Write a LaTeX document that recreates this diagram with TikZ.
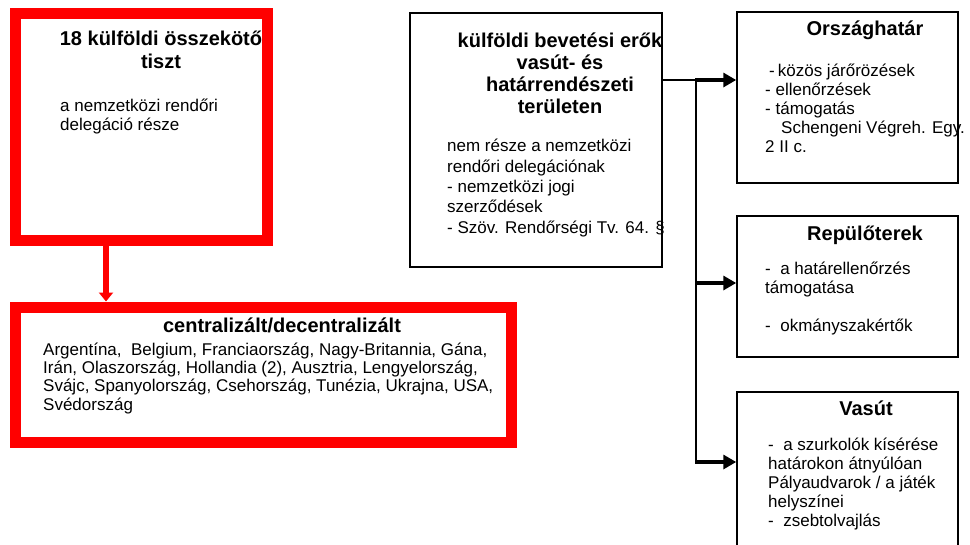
\documentclass[tikz,border=0pt]{standalone}
\usepackage{fontspec}
\setmainfont{Liberation Sans}
\usetikzlibrary{positioning,arrows.meta}
\tikzset{>={Triangle[length=13pt,width=14pt]}}

\begin{document}
\begin{tikzpicture}[x=1pt, y=-1pt,
    redbox/.style={draw=red, line width=11pt, rectangle},
    blackbox/.style={draw=black, line width=1.5pt, rectangle},
    head/.style={font=\fontsize{20}{23}\selectfont\bfseries, align=center, inner sep=0pt, anchor=base},
    body/.style={font=\fontsize{17}{19}\selectfont, align=left, inner sep=0pt, anchor=base west},
    feed/.style={line width=4pt, ->}]
  \clip (0,0) rectangle (970,544);
  % boxes
  \node[redbox, minimum width=252, minimum height=227.5] (liaison) at (141.5,126.75) {};
  \node[redbox, minimum width=496, minimum height=135] (central) at (263,374.5) {};
  \node[blackbox, minimum width=252, minimum height=254] (deploy) at (536,140) {};
  \node[blackbox, minimum width=221, minimum height=171] (border) at (847.5,97.5) {};
  \node[blackbox, minimum width=221, minimum height=141] (airport) at (847.5,286.5) {};
  \node[blackbox, minimum width=221, minimum height=171] (rail) at (847.5,477.5) {};
  % texts (base = last line)
  \node[head] (liaisonhead) at (161,68) {18 külföldi összekötő\\tiszt};
  \node[body] (liaisontext) at (60,130) {a nemzetközi rendőri\\delegáció része};
  \node[head] (centralhead) at (282,332) {centralizált/decentralizált};
  \node[body, font=\fontsize{17}{18.3}\selectfont] (centraltext) at (43,410)
    {Argentína,\ \ Belgium, Franciaország, Nagy-Britannia, Gána,\\
     Irán, Olaszország, Hollandia (2), Ausztria, Lengyelország,\\
     Svájc, Spanyolország, Csehország, Tunézia, Ukrajna, USA,\\
     Svédország};
  \node[head, font=\fontsize{20}{22}\selectfont\bfseries] (deployhead) at (560,113)
    {külföldi bevetési erők\\vasút- és\\határrendészeti\\területen};
  \node[body, font=\fontsize{17}{20.3}\selectfont] (deploytext) at (447,233)
    {nem része a nemzetközi\\rendőri delegációnak\\- nemzetközi jogi\\szerződések\\- Szöv. Rendőrségi Tv. 64. §};
  \node[head] (borderhead) at (865,35) {Országhatár};
  \node[body] (bordertext) at (765,152)
    {\hspace{4pt}-\hspace{3pt}közös járőrözések\\- ellenőrzések\\- támogatás\\\hspace{16pt}Schengeni Végreh. Egy.\\2 II c.};
  \node[head] (airporthead) at (865,240) {Repülőterek};
  \node[body] (airporttext) at (765,331)
    {-\ \ a határellenőrzés\\támogatása\\[19pt]-\ \ okmányszakértők};
  \node[head] (railhead) at (866,415) {Vasút};
  \node[body, font=\fontsize{17}{18.8}\selectfont] (railtext) at (768,526)
    {-\ \ a szurkolók kísérése\\határokon átnyúlóan\\Pályaudvarok / a játék\\helyszínei\\-\ \ zsebtolvajlás};
  % connectors
  \draw[red, line width=5.5pt, -{Triangle[length=9pt,width=14pt]}]
    ([xshift=-35.5pt]liaison.south) -- ([xshift=-35.5pt]liaison.south |- central.north);
  \coordinate (tap1) at (696,80);
  \coordinate (tap2) at (696,283);
  \coordinate (tap3) at (696,462);
  \draw[line width=1.5pt] (deploy.east |- tap1) -- (tap1) -- (tap3);
  \draw[feed] ([xshift=-1pt]tap1) -- (tap1 -| border.west);
  \draw[feed] ([xshift=-1pt]tap2) -- (tap2 -| airport.west);
  \draw[feed] ([xshift=-1pt]tap3) -- (tap3 -| rail.west);
\end{tikzpicture}
\end{document}
